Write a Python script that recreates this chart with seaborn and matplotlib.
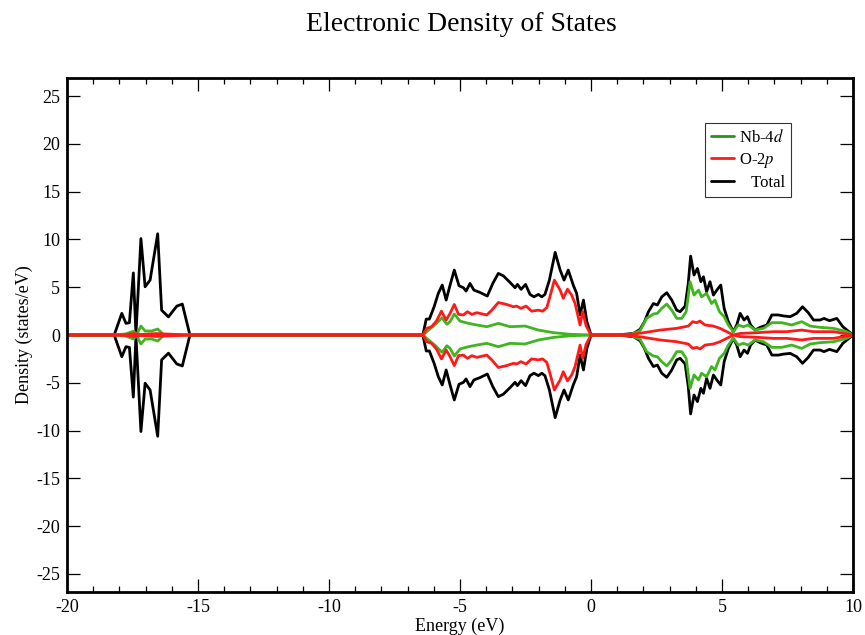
import matplotlib
matplotlib.use("Agg")
import matplotlib.pyplot as plt
from matplotlib.ticker import MultipleLocator
from matplotlib.lines import Line2D
import numpy as np
import pandas as pd
import seaborn as sns

# ---------------- data (spin-up; spin-down is the mirror image) ----------------
energy_total = [-20, -18.2, -17.91, -17.75, -17.62, -17.47, -17.37, -17.18, -17.02, -16.83,
                -16.54, -16.39, -16.13, -15.81, -15.6, -15.31,
                -6.42, -6.29, -6.17, -5.99, -5.83, -5.68, -5.53, -5.38, -5.22, -5.04,
                -4.87, -4.77, -4.62, -4.47, -4.24, -3.96, -3.75, -3.54, -3.35, -3.09,
                -2.9, -2.81, -2.67, -2.5, -2.33, -2.18, -2.01, -1.88, -1.76, -1.59,
                -1.37, -1.18, -1.03, -0.87, -0.68, -0.55, -0.42, -0.29, -0.16, 0.0,
                1.0, 1.36, 1.62, 1.87, 2.04, 2.19, 2.38, 2.53, 2.7, 2.89,
                3.08, 3.27, 3.4, 3.59, 3.71, 3.8, 3.93, 4.06, 4.19, 4.29,
                4.41, 4.54, 4.67, 4.8, 4.95, 5.08, 5.24, 5.43, 5.56, 5.69,
                5.84, 5.97, 6.09, 6.26, 6.45, 6.71, 6.9, 7.15, 7.34, 7.6,
                7.85, 8.07, 8.29, 8.49, 8.74, 8.89, 9.1, 9.38, 9.61, 10.0]
dos_total = [0, 0, 2.27, 1.22, 1.29, 6.5, 0.1, 10.1, 5.05, 5.75,
             10.6, 2.6, 1.9, 3.03, 3.24, 0,
             0, 1.67, 1.67, 2.96, 4.36, 5.23, 3.66, 5.23, 6.8, 5.16,
             4.95, 4.6, 5.4, 4.7, 4.46, 4.08, 5.4, 6.45, 6.2, 5.5,
             4.95, 5.3, 4.78, 5.3, 4.25, 4.0, 4.25, 4.0, 4.25, 5.75,
             8.65, 6.8, 5.75, 6.8, 5.23, 4.36, 2.1, 3.66, 1.4, 0,
             0, 0.1, 0.17, 0.6, 1.4, 2.44, 3.3, 3.14, 4.0, 4.43,
             3.66, 2.6, 2.44, 3.03, 5.4, 8.26, 6.28, 6.97, 5.58, 6.1,
             4.53, 5.58, 4.18, 4.7, 5.23, 2.79, 1.4, 0.35, 1.05, 2.27,
             1.57, 1.92, 1.05, 0.52, 0.8, 1.05, 2.1, 2.1, 2.0, 1.92,
             2.27, 2.96, 2.34, 1.57, 1.57, 1.74, 1.5, 1.74, 0.87, 0]

energy_nb = [-20, -18.2, -17.75, -17.47, -17.34, -17.18, -17.02, -16.77, -16.54, -16.32, -15.3,
             -6.42, -6.2, -5.94, -5.69, -5.5, -5.38, -5.22, -5.0, -4.68, -4.36,
             -3.98, -3.54, -3.09, -2.52, -2.01, -1.44, -0.8, 0.0,
             1.0, 1.5, 1.87, 2.12, 2.38, 2.53, 2.7, 2.89, 3.08, 3.27,
             3.46, 3.63, 3.78, 3.93, 4.1, 4.22, 4.41, 4.6, 4.73, 4.9,
             5.08, 5.24, 5.43, 5.62, 5.81, 6.0, 6.26, 6.58, 6.9, 7.28,
             7.66, 8.04, 8.36, 8.74, 9.25, 9.76, 10.0]
dos_nb = [0, 0, 0.12, 0.4, 0.05, 0.94, 0.42, 0.42, 0.63, 0.05, 0,
          0, 0.52, 1.12, 1.8, 1.12, 1.4, 2.2, 1.46, 1.22, 1.05,
          0.87, 1.22, 0.87, 0.94, 0.52, 0.25, 0.08, 0,
          0, 0.05, 0.45, 1.74, 2.2, 2.27, 2.8, 3.24, 2.6, 1.74,
          1.74, 2.44, 5.58, 4.18, 4.7, 4.0, 4.36, 3.3, 3.66, 2.44,
          1.92, 1.05, 0.35, 1.05, 0.87, 1.05, 0.52, 0.7, 1.29, 1.29,
          1.05, 1.4, 0.94, 0.8, 0.7, 0.35, 0]

energy_o = [-20, -17.9, -17.45, -17.2, -16.6, -16.0, -15.3,
            -6.42, -6.27, -6.09, -5.9, -5.71, -5.53, -5.38, -5.22, -5.06, -4.87,
            -4.72, -4.55, -4.36, -3.98, -3.79, -3.54, -3.22, -2.96, -2.84, -2.68,
            -2.48, -2.27, -2.01, -1.85, -1.69, -1.57, -1.4, -1.18, -1.06, -0.9,
            -0.74, -0.61, -0.42, -0.32, -0.19, 0.0,
            1.0, 1.5, 2.0, 2.64, 3.27, 3.71, 3.88, 4.03, 4.16, 4.35,
            4.67, 4.92, 5.18, 5.43, 5.69, 6.32, 6.96, 7.47, 8.04, 8.49,
            9.25, 10.0]
dos_o = [0, 0, 0.15, 0.05, 0.15, 0.08, 0,
         0, 0.7, 0.87, 1.46, 2.5, 1.57, 2.27, 3.2, 2.16, 2.1,
         2.44, 2.16, 2.34, 2.1, 2.6, 3.4, 3.2, 2.96, 3.03, 2.79,
         3.03, 2.5, 2.6, 2.5, 2.86, 4.0, 5.75, 4.7, 3.84, 4.8,
         4.18, 3.3, 1.05, 2.44, 0.98, 0,
         0, 0.05, 0.24, 0.52, 0.7, 0.94, 1.4, 1.29, 1.46, 1.05,
         0.94, 0.7, 0.35, 0, 0.17, 0.24, 0.35, 0.35, 0.52, 0.35,
         0.35, 0]

labels = ["Nb-4$\\it{d}$", "O-2$\\it{p}$", "   Total"]
colors = {"Nb": "#3fb51f", "O": "#ff1a1a", "Total": "#000000"}

# ---------------- style ----------------
sns.set_style("ticks")
plt.rcParams["font.family"] = ["Liberation Serif", "DejaVu Serif"]
plt.rcParams["mathtext.fontset"] = "stix"
plt.rcParams["axes.unicode_minus"] = False
plt.rcParams["text.color"] = "black"
plt.rcParams["axes.labelcolor"] = "black"
plt.rcParams["xtick.color"] = "black"
plt.rcParams["ytick.color"] = "black"

fig = plt.figure(figsize=(8.65, 6.35), dpi=100)
ax = fig.add_axes([0.0775, 0.0677, 0.9087, 0.8094])

def series(e, d, name, spin):
    sign = 1 if spin == "up" else -1
    return pd.DataFrame({"Energy": e, "DOS": [sign * v for v in d],
                         "name": name, "spin": spin})

lw = 2.0
for name, e, d in [("Total", energy_total, dos_total),
                   ("Nb", energy_nb, dos_nb),
                   ("O", energy_o, dos_o)]:
    for spin in ("up", "down"):
        df = series(e, d, name, spin)
        sns.lineplot(data=df, x="Energy", y="DOS", ax=ax, sort=False,
                     estimator=None, color=colors[name], linewidth=lw,
                     legend=False)

ax.set_xlim(-20, 10)
ax.set_ylim(-26.9, 26.9)
ax.xaxis.set_major_locator(MultipleLocator(5))
ax.xaxis.set_minor_locator(MultipleLocator(1))
ax.yaxis.set_major_locator(MultipleLocator(5))
ax.tick_params(axis="both", which="major", direction="in", length=9.5, width=0.9,
               top=True, right=True, labelsize=13, pad=5, color="black",
               labelcolor="black")
ax.tick_params(axis="x", which="minor", direction="in", length=4.5, width=0.9,
               top=True, bottom=True, color="black")
for sp in ax.spines.values():
    sp.set_linewidth(2.0)
    sp.set_color("black")

ax.set_xlabel("Energy (eV)", fontsize=13, labelpad=1, color="black")
ax.set_ylabel("Density (states/eV)", fontsize=13, labelpad=2, color="black")

fig.text(0.5335, 0.962, "Electronic Density of States", ha="center", va="center",
         fontsize=20, color="black")

handles = [Line2D([0], [0], color="#2e8f22", lw=lw),
           Line2D([0], [0], color=colors["O"], lw=lw),
           Line2D([0], [0], color=colors["Total"], lw=lw)]
leg = ax.legend(handles, labels, loc="upper left", bbox_to_anchor=(0.812, 0.912),
                borderaxespad=0, frameon=True, fancybox=False, fontsize=12,
                handlelength=1.35, handletextpad=0.3, labelspacing=0.3,
                borderpad=0.35)
leg.get_frame().set_edgecolor("black")
leg.get_frame().set_linewidth(0.8)
for t in leg.get_texts():
    t.set_color("black")

fig.savefig("out.png", dpi=100)
